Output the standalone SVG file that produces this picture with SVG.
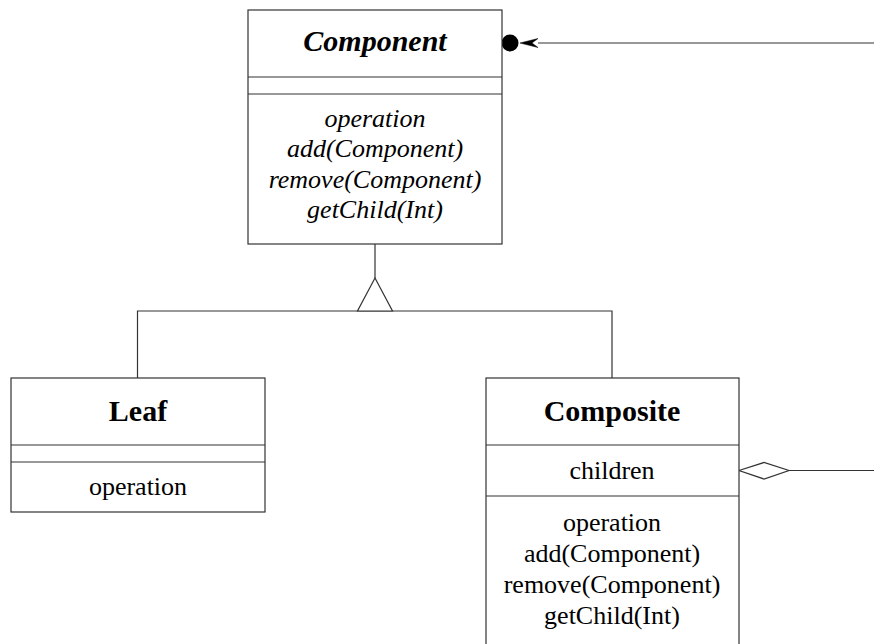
<svg xmlns="http://www.w3.org/2000/svg" width="874" height="644" viewBox="0 0 874 644">
<style>
.box{fill:#fff;stroke:#333;stroke-width:1.2}
.ln{stroke:#333;stroke-width:1.2;fill:none}
text{text-anchor:middle;fill:#000}
.title{font-size:30px;font-weight:bold}
.body{font-size:26px}
.it{font-style:italic}
</style>
<rect width="874" height="644" fill="#fff"/>
<g id="connectors">
<line class="ln" x1="538" y1="43" x2="874" y2="43"/>
<polygon points="520,43 538,38.5 532,43 538,47.5" fill="#000" stroke="#000" stroke-width="0.5"/>
<circle cx="510" cy="43" r="8.5" fill="#000"/>
<line class="ln" x1="375" y1="244" x2="375" y2="278"/>
<polyline class="ln" points="137.5,378 137.5,311 612,311 612,378"/>
<polygon class="box" points="375,278 357.5,311 392.5,311"/>
<line class="ln" x1="789" y1="470.5" x2="874" y2="470.5"/>
<polygon class="box" points="739,470.5 764,462.5 789,470.5 764,479"/>
</g>
<g id="component" font-family="Liberation Serif, Times New Roman, serif">
<rect class="box" x="248" y="10" width="254" height="234"/>
<line class="ln" x1="248" y1="77" x2="502" y2="77"/>
<line class="ln" x1="248" y1="94" x2="502" y2="94"/>
<text class="title it" x="375" y="51">Component</text>
<text class="body it" x="375" y="127">operation</text>
<text class="body it" x="375" y="157">add(Component)</text>
<text class="body it" x="375" y="188">remove(Component)</text>
<text class="body it" x="375" y="218">getChild(Int)</text>
</g>
<g id="leaf" font-family="Liberation Serif, Times New Roman, serif">
<rect class="box" x="11" y="378" width="254" height="134"/>
<line class="ln" x1="11" y1="445" x2="265" y2="445"/>
<line class="ln" x1="11" y1="462" x2="265" y2="462"/>
<text class="title" x="138" y="421">Leaf</text>
<text class="body" x="138" y="495">operation</text>
</g>
<g id="composite" font-family="Liberation Serif, Times New Roman, serif">
<rect class="box" x="486" y="378" width="253" height="280"/>
<line class="ln" x1="486" y1="445" x2="739" y2="445"/>
<line class="ln" x1="486" y1="496" x2="739" y2="496"/>
<text class="title" x="612" y="421">Composite</text>
<text class="body" x="612" y="479">children</text>
<text class="body" x="612" y="531">operation</text>
<text class="body" x="612" y="562">add(Component)</text>
<text class="body" x="612" y="593">remove(Component)</text>
<text class="body" x="612" y="624">getChild(Int)</text>
</g>
</svg>
